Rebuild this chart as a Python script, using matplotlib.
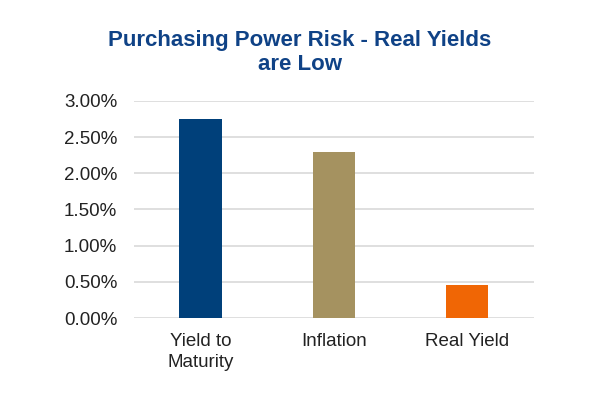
import matplotlib.pyplot as plt
from matplotlib.ticker import FuncFormatter

plt.rcParams['font.family'] = ['Liberation Sans', 'DejaVu Sans']

categories = ["Yield to\nMaturity", "Inflation", "Real Yield"]
values = [2.75, 2.30, 0.45]
colors = ["#00407A", "#A59260", "#F06605"]
yticks = [0.0, 0.5, 1.0, 1.5, 2.0, 2.5, 3.0]

fig = plt.figure(figsize=(6, 3.99), dpi=100)
ax = fig.add_axes([0.223, 0.203, 0.667, 0.544])

ax.bar(range(len(categories)), values, width=0.315, color=colors, zorder=3)
ax.set_xlim(-0.5, len(categories) - 0.5)
ax.set_ylim(0, 3.0)
ax.set_yticks(yticks)
ax.yaxis.set_major_formatter(FuncFormatter(lambda v, p: "%.2f%%" % v))
ax.set_xticks(range(len(categories)))
ax.set_xticklabels(categories, fontsize=13.5, color="#222222", linespacing=1.3)
ax.tick_params(axis='y', labelsize=13.5, colors="#222222", length=0, pad=12)
ax.tick_params(axis='x', length=0, pad=11)
ax.grid(axis='y', color="#d9d9d9", linewidth=1.2, zorder=0)
for s in ax.spines.values():
    s.set_visible(False)

fig.text(0.5, 0.868, "Purchasing Power Risk - Real Yields\nare Low", ha='center', va='center',
         fontsize=16, fontweight='bold', color="#0F4286", linespacing=1.2)

fig.savefig("out.png", dpi=100)
